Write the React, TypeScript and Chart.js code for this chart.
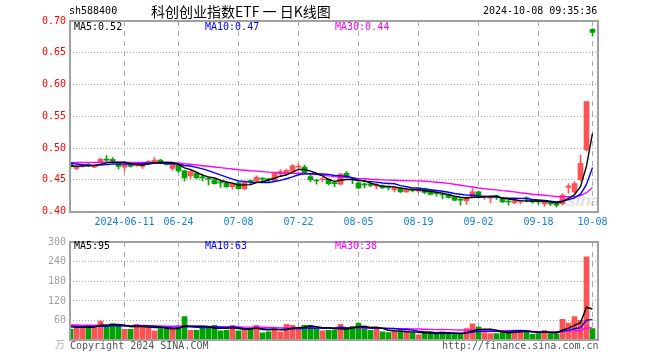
import React, { useEffect, useRef } from 'react';
import { Chart, registerables } from 'chart.js';

Chart.register(...registerables);

// ---------- data ----------
const dates = [
  '2024-05-28', '2024-05-29', '2024-05-30', '2024-05-31',
  '2024-06-03', '2024-06-04', '2024-06-05', '2024-06-06', '2024-06-07',
  '2024-06-11', '2024-06-12', '2024-06-13', '2024-06-14',
  '2024-06-17', '2024-06-18', '2024-06-19', '2024-06-20', '2024-06-21',
  '2024-06-24', '2024-06-25', '2024-06-26', '2024-06-27', '2024-06-28',
  '2024-07-01', '2024-07-02', '2024-07-03', '2024-07-04', '2024-07-05',
  '2024-07-08', '2024-07-09', '2024-07-10', '2024-07-11', '2024-07-12',
  '2024-07-15', '2024-07-16', '2024-07-17', '2024-07-18', '2024-07-19',
  '2024-07-22', '2024-07-23', '2024-07-24', '2024-07-25', '2024-07-26',
  '2024-07-29', '2024-07-30', '2024-07-31', '2024-08-01', '2024-08-02',
  '2024-08-05', '2024-08-06', '2024-08-07', '2024-08-08', '2024-08-09',
  '2024-08-12', '2024-08-13', '2024-08-14', '2024-08-15', '2024-08-16',
  '2024-08-19', '2024-08-20', '2024-08-21', '2024-08-22', '2024-08-23',
  '2024-08-26', '2024-08-27', '2024-08-28', '2024-08-29', '2024-08-30',
  '2024-09-02', '2024-09-03', '2024-09-04', '2024-09-05', '2024-09-06',
  '2024-09-09', '2024-09-10', '2024-09-11', '2024-09-12', '2024-09-13',
  '2024-09-18', '2024-09-19', '2024-09-20',
  '2024-09-23', '2024-09-24', '2024-09-25', '2024-09-26', '2024-09-27',
  '2024-09-30', '2024-10-08',
];

const opens = [
  0.476, 0.468, 0.471, 0.474, 0.470, 0.478, 0.482, 0.482, 0.477,
  0.470, 0.474, 0.472, 0.471, 0.476, 0.478, 0.481, 0.477, 0.468,
  0.473, 0.464, 0.456, 0.460, 0.454, 0.452, 0.450, 0.446, 0.445, 0.439,
  0.445, 0.436, 0.448, 0.448, 0.452, 0.451, 0.449, 0.459, 0.459, 0.464,
  0.470, 0.470, 0.455, 0.449, 0.450, 0.451, 0.445, 0.443, 0.460, 0.451,
  0.445, 0.443, 0.443, 0.440, 0.441, 0.438, 0.434, 0.437, 0.431, 0.434,
  0.432, 0.436, 0.432, 0.429, 0.427, 0.427, 0.423, 0.419, 0.417, 0.422,
  0.431, 0.422, 0.421, 0.424, 0.421, 0.416, 0.414, 0.415, 0.421, 0.417,
  0.416, 0.412, 0.413, 0.412, 0.412, 0.438, 0.431, 0.450, 0.497, 0.687,
];
const highs = [
  0.477, 0.471, 0.475, 0.475, 0.474, 0.484, 0.488, 0.485, 0.478,
  0.475, 0.475, 0.475, 0.477, 0.480, 0.485, 0.482, 0.478, 0.477,
  0.475, 0.465, 0.464, 0.461, 0.459, 0.454, 0.451, 0.448, 0.446, 0.445,
  0.446, 0.447, 0.450, 0.456, 0.453, 0.452, 0.461, 0.466, 0.467, 0.474,
  0.475, 0.473, 0.457, 0.451, 0.454, 0.452, 0.447, 0.460, 0.463, 0.454,
  0.446, 0.445, 0.445, 0.444, 0.442, 0.440, 0.439, 0.438, 0.436, 0.436,
  0.436, 0.437, 0.433, 0.431, 0.429, 0.428, 0.424, 0.421, 0.423, 0.436,
  0.432, 0.425, 0.424, 0.426, 0.422, 0.418, 0.418, 0.418, 0.423, 0.418,
  0.418, 0.417, 0.415, 0.413, 0.428, 0.444, 0.447, 0.489, 0.573, 0.688,
];
const lows = [
  0.467, 0.466, 0.470, 0.471, 0.469, 0.477, 0.479, 0.478, 0.467,
  0.464, 0.470, 0.471, 0.468, 0.475, 0.477, 0.475, 0.473, 0.465,
  0.462, 0.448, 0.452, 0.452, 0.448, 0.442, 0.443, 0.438, 0.438, 0.435,
  0.435, 0.434, 0.442, 0.447, 0.447, 0.446, 0.448, 0.456, 0.457, 0.460,
  0.466, 0.459, 0.447, 0.443, 0.447, 0.442, 0.439, 0.442, 0.453, 0.444,
  0.436, 0.437, 0.439, 0.435, 0.436, 0.434, 0.431, 0.430, 0.430, 0.431,
  0.430, 0.428, 0.426, 0.424, 0.420, 0.421, 0.417, 0.410, 0.411, 0.421,
  0.421, 0.419, 0.414, 0.419, 0.414, 0.410, 0.412, 0.412, 0.415, 0.413,
  0.411, 0.408, 0.409, 0.407, 0.410, 0.429, 0.429, 0.448, 0.495, 0.676,
];
const closes = [
  0.471, 0.470, 0.474, 0.473, 0.473, 0.482, 0.481, 0.480, 0.471,
  0.474, 0.471, 0.474, 0.476, 0.479, 0.481, 0.476, 0.474, 0.476,
  0.464, 0.453, 0.463, 0.453, 0.453, 0.451, 0.444, 0.445, 0.439, 0.444,
  0.436, 0.446, 0.447, 0.454, 0.451, 0.450, 0.460, 0.463, 0.465, 0.472,
  0.471, 0.460, 0.450, 0.448, 0.451, 0.444, 0.444, 0.459, 0.454, 0.450,
  0.437, 0.442, 0.441, 0.441, 0.437, 0.437, 0.438, 0.431, 0.435, 0.433,
  0.434, 0.430, 0.427, 0.428, 0.426, 0.422, 0.418, 0.418, 0.422, 0.431,
  0.422, 0.423, 0.422, 0.423, 0.415, 0.415, 0.417, 0.416, 0.420, 0.415,
  0.415, 0.415, 0.412, 0.410, 0.426, 0.440, 0.444, 0.476, 0.573, 0.682,
];
// volume, 万手
const volumes = [
  33.8, 37.8, 42.8, 43.8, 45.8, 58.7, 40.8, 50.7, 47.7,
  33.8, 33.8, 48.8, 43.8, 40.8, 28.8, 35.8, 33.8, 35.8,
  43.8, 72.7, 30.8, 30.8, 38.8, 37.8, 45.8, 28.8, 30.8, 45.8,
  28.8, 33.8, 33.8, 45.8, 22.8, 25.8, 38.8, 25.8, 48.8, 45.8,
  33.8, 45.8, 45.8, 37.8, 28.8, 30.8, 30.8, 48.8, 33.8, 42.8,
  52.7, 35.8, 30.8, 37.8, 25.8, 23.8, 27.8, 25.8, 27.8, 23.8,
  16.5, 21.5, 21.5, 21.5, 25.5, 18.5, 18.5, 18.5, 35.5, 50.4,
  40.5, 23.5, 20.5, 20.5, 25.5, 25.5, 31.5, 28.5, 25.5, 18.5,
  20.8, 30.8, 20.8, 18.8, 63.7, 52.7, 72.7, 60.7, 255, 36,
];
// sessions before the window (needed for the moving averages at the left edge)
const priorCloses = [
  0.468, 0.472, 0.475, 0.471, 0.469, 0.474, 0.478, 0.480, 0.477, 0.473,
  0.476, 0.481, 0.483, 0.479, 0.476, 0.474, 0.478, 0.480, 0.489, 0.492,
  0.488, 0.484, 0.480, 0.477, 0.476, 0.474, 0.471, 0.473, 0.471,
];
const priorVolumes = [
  52, 45, 60, 48, 41, 55, 50, 44, 47, 58,
  46, 39, 51, 49, 43, 53, 47, 42, 50, 50,
  52, 44, 49, 45, 45, 46, 40, 44, 41,
];

const dateTickIndex = [9, 18, 28, 38, 48, 58, 68, 78, 87];
const priceTicks = [0.40, 0.45, 0.50, 0.55, 0.60, 0.65, 0.70];
const volumeTicks = [0, 60, 120, 180, 240, 300];
const maPeriods = [5, 10, 30];

// ---------- styles ----------
const RED = '#ff5252';
const GREEN = '#00a400';
const MA_COLORS = ['#000000', '#0000ff', '#ff00ff'];
const MONO = "'DejaVu Sans Mono', monospace";
const GRID = '#aaaaaa';
const X_MIN = -1 / 12;
const X_MAX = 87 + 5 / 6;

function movingAverage(values: number[], prior: number[], n: number): number[] {
  const all = prior.concat(values);
  return values.map((_, i) => {
    const end = prior.length + i;
    let s = 0;
    for (let k = end - n + 1; k <= end; k++) s += all[k];
    return s / n;
  });
}

const framePlugin = {
  id: 'frame',
  afterDraw(chart: any) {
    const { ctx, chartArea: a } = chart;
    ctx.save();
    ctx.strokeStyle = '#a0a0a0';
    ctx.lineWidth = 2;
    const l = Math.round(a.left), t = Math.round(a.top), r = Math.round(a.right), b = Math.round(a.bottom);
    ctx.strokeRect(l, t, r - l, b - t);
    ctx.restore();
  },
};

const upFlags = closes.map((c, i) => c >= opens[i]);
const barColors = upFlags.map((u) => (u ? RED : GREEN));

function xScale(showLabels: boolean, height: number) {
  return {
    type: 'linear',
    min: X_MIN,
    max: X_MAX,
    offset: false,
    bounds: 'ticks',
    afterBuildTicks: (s: any) => {
      s.ticks = dateTickIndex.map((v) => ({ value: v }));
    },
    afterFit: (s: any) => {
      s.height = height;
    },
    ticks: {
      display: showLabels,
      autoSkip: false,
      maxRotation: 0,
      padding: 5,
      color: '#1480d8',
      font: { family: MONO, size: 10 },
      callback: (v: any) => {
        const k = dateTickIndex.indexOf(Number(v));
        if (k < 0) return '';
        const d = dates[Number(v)];
        return k === 0 ? d : d.slice(5);
      },
    },
    grid: { color: GRID, lineWidth: 1, drawTicks: false, offset: false },
    border: { display: false, dash: [5, 5] },
  };
}

export default function App() {
  const priceRef = useRef<HTMLCanvasElement | null>(null);
  const volRef = useRef<HTMLCanvasElement | null>(null);

  const priceMA = maPeriods.map((n) => movingAverage(closes, priorCloses, n));
  const volMA = maPeriods.map((n) => movingAverage(volumes, priorVolumes, n));
  const last = closes.length - 1;

  useEffect(() => {
    const priceChart = new Chart(priceRef.current as HTMLCanvasElement, {
      type: 'bar',
      data: {
        datasets: [
          ...priceMA.map((arr, k) => ({
            type: 'line' as const,
            label: 'MA' + maPeriods[k],
            data: arr.map((y, i) => ({ x: i, y })),
            borderColor: MA_COLORS[k],
            borderWidth: 1.4,
            pointRadius: 0,
            tension: 0,
            order: 0,
          })),
          {
            type: 'bar' as const,
            label: 'body',
            data: opens.map((o, i) => ({ x: i, y: [o, closes[i]] })),
            backgroundColor: barColors,
            barThickness: 5,
            minBarLength: 1,
            grouped: false,
            order: 1,
          },
          {
            type: 'bar' as const,
            label: 'wick',
            data: lows.map((l, i) => ({ x: i, y: [l, highs[i]] })),
            backgroundColor: barColors,
            barThickness: 1,
            grouped: false,
            order: 2,
          },
        ] as any,
      },
      options: {
        animation: false,
        responsive: false,
        devicePixelRatio: 1,
        layout: { padding: { top: 21, right: 62.5, bottom: 0, left: 0 } },
        plugins: { legend: { display: false }, tooltip: { enabled: false } },
        scales: {
          x: xScale(true, 20.5) as any,
          y: {
            min: 0.4,
            max: 0.7,
            afterBuildTicks: (s: any) => {
              s.ticks = priceTicks.map((v) => ({ value: v }));
            },
            afterFit: (s: any) => {
              s.width = 70;
            },
            ticks: {
              color: '#ff0000',
              padding: 4,
              font: { family: MONO, size: 10 },
              callback: (v: any) => Number(v).toFixed(2),
            },
            grid: { color: GRID, lineWidth: 1, drawTicks: false },
            border: { display: false, dash: [1, 2] },
          },
        },
      },
      plugins: [framePlugin],
    });

    const volChart = new Chart(volRef.current as HTMLCanvasElement, {
      type: 'bar',
      data: {
        datasets: [
          ...volMA.map((arr, k) => ({
            type: 'line' as const,
            label: 'VMA' + maPeriods[k],
            data: arr.map((y, i) => ({ x: i, y })),
            borderColor: MA_COLORS[k],
            borderWidth: 1.4,
            pointRadius: 0,
            tension: 0,
            order: 0,
          })),
          {
            type: 'bar' as const,
            label: 'volume',
            data: volumes.map((v, i) => ({ x: i, y: v })),
            backgroundColor: barColors,
            barThickness: 5,
            grouped: false,
            order: 1,
          },
        ] as any,
      },
      options: {
        animation: false,
        responsive: false,
        devicePixelRatio: 1,
        layout: { padding: { top: 8, right: 62.5, bottom: 0, left: 0 } },
        plugins: { legend: { display: false }, tooltip: { enabled: false } },
        scales: {
          x: xScale(false, 19.7) as any,
          y: {
            min: 0,
            max: 300,
            afterBuildTicks: (s: any) => {
              s.ticks = volumeTicks.map((v) => ({ value: v }));
            },
            afterFit: (s: any) => {
              s.width = 70;
            },
            ticks: {
              color: '#a0a0a0',
              padding: 4,
              font: { family: MONO, size: 10 },
              callback: (v: any) => (Number(v) === 0 ? '' : String(v)),
            },
            grid: { color: GRID, lineWidth: 1, drawTicks: false },
            border: { display: false, dash: [1, 2] },
          },
        },
      },
      plugins: [framePlugin],
    });

    return () => {
      priceChart.destroy();
      volChart.destroy();
    };
  }, []);

  const txt = (left: number, top: number, color: string, s: string, extra: any = {}) => (
    <span
      style={{
        position: 'absolute',
        left,
        top,
        color,
        fontFamily: MONO,
        fontSize: 10,
        lineHeight: '12px',
        whiteSpace: 'pre',
        ...extra,
      }}
    >
      {s}
    </span>
  );

  return (
    <div
      style={{
        position: 'absolute',
        left: 0,
        top: 0,
        width: 660,
        height: 360,
        background: '#ffffff',
        overflow: 'hidden',
      }}
    >
      <span
        style={{
          position: 'absolute',
          left: 566,
          top: 191,
          color: '#e2e2e2',
          fontFamily: 'Liberation Sans, sans-serif',
          fontStyle: 'italic',
          fontWeight: 'bold',
          fontSize: 17,
          lineHeight: '20px',
        }}
      >
        sina
      </span>
      <canvas
        ref={priceRef}
        width={660}
        height={232}
        style={{ position: 'absolute', left: 0, top: 0, width: 660, height: 232 }}
      />
      <canvas
        ref={volRef}
        width={660}
        height={128}
        style={{ position: 'absolute', left: 0, top: 232, width: 660, height: 128 }}
      />
      {txt(69, 5, '#000', 'sh588400')}
      <span
        style={{
          position: 'absolute',
          left: 151,
          top: 2,
          fontFamily: "'Noto Sans CJK SC', sans-serif",
          fontSize: 14,
          lineHeight: '18px',
          color: '#000',
          whiteSpace: 'pre',
        }}
      >
        科创创业指数ETF 一 日K线图
      </span>
      {txt(483, 5, '#000', '2024-10-08 09:35:36')}

      {txt(74, 21, MA_COLORS[0], 'MA5:' + priceMA[0][last].toFixed(2))}
      {txt(205, 21, MA_COLORS[1], 'MA10:' + priceMA[1][last].toFixed(2))}
      {txt(335, 21, MA_COLORS[2], 'MA30:' + priceMA[2][last].toFixed(2))}

      {txt(74, 240, MA_COLORS[0], 'MA5:' + volMA[0][last].toFixed(0))}
      {txt(205, 240, MA_COLORS[1], 'MA10:' + volMA[1][last].toFixed(0))}
      {txt(335, 240, MA_COLORS[2], 'MA30:' + volMA[2][last].toFixed(0))}

      <span
        style={{
          position: 'absolute',
          left: 55,
          top: 338,
          fontFamily: "'Noto Sans CJK SC', sans-serif",
          fontSize: 10,
          lineHeight: '12px',
          color: '#b0b0b0',
        }}
      >
        万
      </span>
      {txt(70, 340, '#555', 'Copyright 2024 SINA.COM')}
      {txt(442, 340, '#555', 'http://finance.sina.com.cn')}
    </div>
  );
}
